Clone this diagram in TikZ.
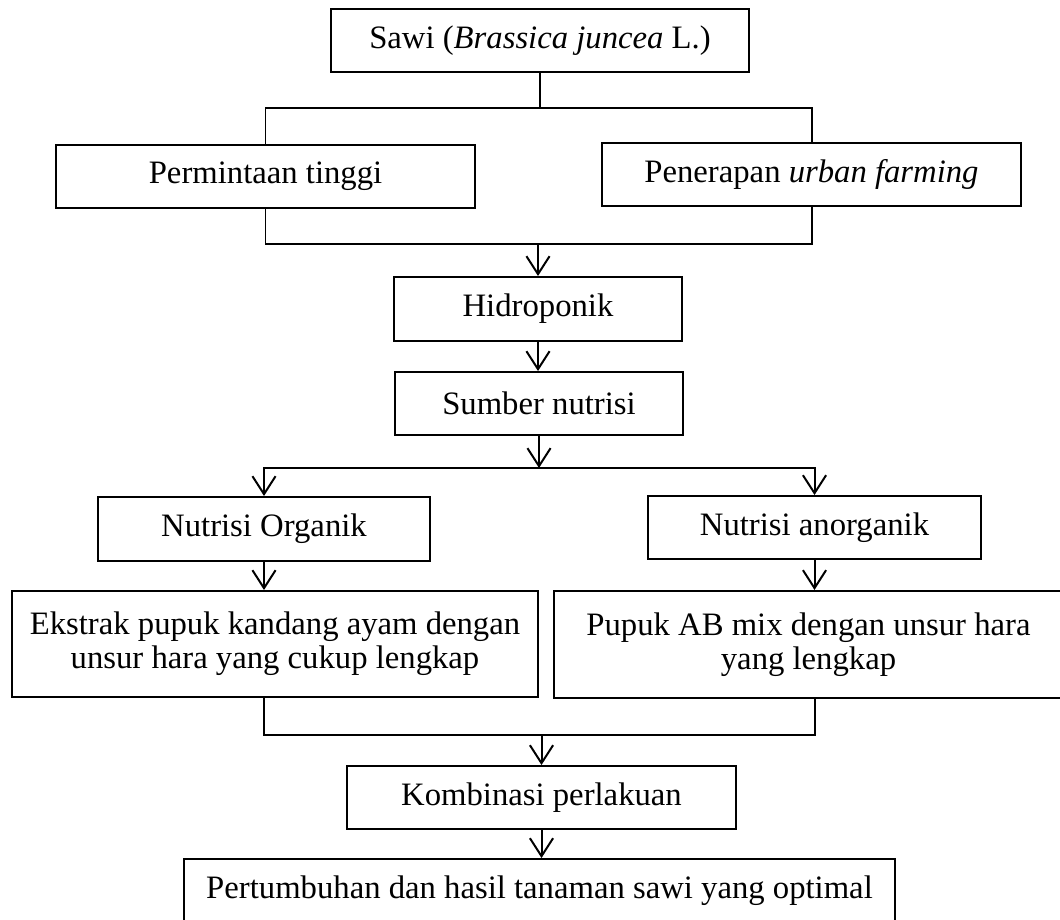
\documentclass[tikz,border=0pt]{standalone}
\usepackage{fontspec}
\setmainfont{Liberation Serif}
\usetikzlibrary{arrows.meta}

\begin{document}
\begin{tikzpicture}[x=0.367pt,y=-0.367pt,
box/.style={draw,line width=0.73pt,align=center,inner sep=0pt,
font=\fontsize{12pt}{12.5pt}\selectfont},
line/.style={line width=0.73pt},
arr/.style={line,-{Straight Barb[length=6.6pt,width=8.5pt]}}]
\useasboundingbox (0,0) rectangle (1060,920);
\node[box,minimum width=153.4pt,minimum height=23.1pt] (sawi) at (540,40.5) {Sawi (\textit{Brassica juncea} L.)};
\node[box,minimum width=153.8pt,minimum height=23.1pt] (minta) at (265.5,176.5) {Permintaan tinggi};
\node[box,minimum width=153.8pt,minimum height=23.1pt] (urban) at (811.5,174.5) {Penerapan \textit{urban farming}};
\node[box,minimum width=105.7pt,minimum height=23.5pt] (hidro) at (538,309) {Hidroponik};
\node[box,minimum width=105.7pt,minimum height=23.1pt] (sumber) at (539,403.5) {Sumber nutrisi};
\node[box,minimum width=121.8pt,minimum height=23.5pt] (organik) at (264,529) {Nutrisi Organik};
\node[box,minimum width=122.2pt,minimum height=23.1pt] (anorg) at (814.5,527.5) {Nutrisi anorganik};
\node[box,minimum width=193pt,minimum height=38.9pt] (ekstrak) at (275,644) {Ekstrak pupuk kandang ayam dengan\\unsur hara yang cukup lengkap};
\node[box,minimum width=186.8pt,minimum height=39.3pt] (abmix) at (808.5,644.5) {Pupuk AB mix dengan unsur hara\\yang lengkap};
\node[box,minimum width=142.8pt,minimum height=23.1pt] (kombi) at (541.5,797.5) {Kombinasi perlakuan};
\node[box,minimum width=260.9pt,minimum height=23.1pt] (tumbuh) at (539.5,890.5) {Pertumbuhan dan hasil tanaman sawi yang optimal};

\draw[line] (sawi.south) -- ++(0,35) coordinate (t1);
\draw[line] (t1) -| (minta.north);
\draw[line] (t1) -| (urban.north);
\draw[line] (minta.south) -- ++(0,35) coordinate (m1) -| (urban.south);
\draw[arr] (m1 -| hidro.north) -- (hidro.north);
\draw[arr] (hidro.south) -- (hidro.south |- sumber.north);
\draw[arr] (sumber.south) -- ++(0,32) coordinate (t2);
\draw[arr] (t2) -| (organik.north);
\draw[arr] (t2) -| (anorg.north);
\draw[arr] (organik.south) -- (organik.south |- ekstrak.north);
\draw[arr] (anorg.south) -- (anorg.south |- abmix.north);
\draw[line] (organik.south |- ekstrak.south) -- ++(0,37) coordinate (m2) -| (anorg.south |- abmix.south);
\draw[arr] (m2 -| kombi.north) -- (kombi.north);
\draw[arr] (kombi.south) -- (kombi.south |- tumbuh.north);
\end{tikzpicture}
\end{document}
